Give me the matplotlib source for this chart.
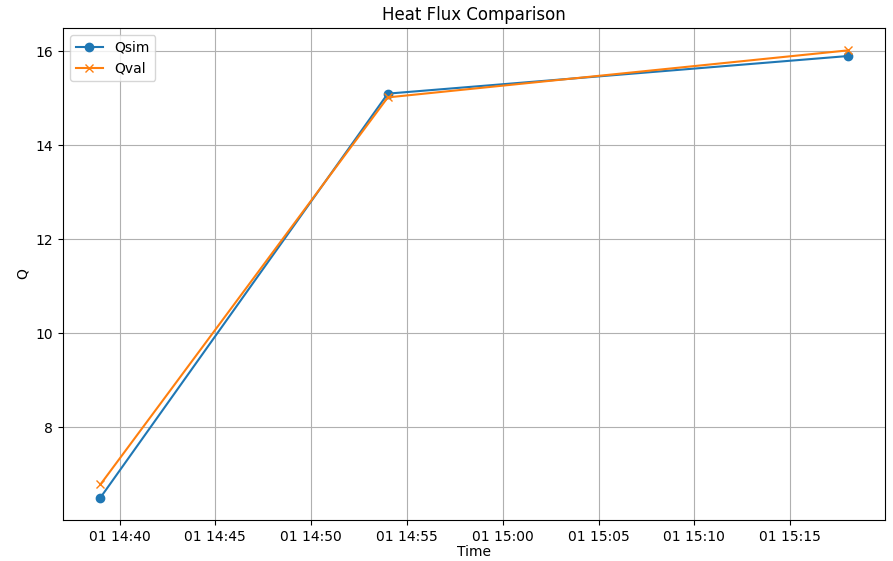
import pandas as pd
from matplotlib import pyplot as plt

times = pd.to_datetime(["2024-01-01 14:39:00", "2024-01-01 14:54:00", "2024-01-01 15:18:00"])
q_sim = [6.5, 15.1, 15.9]
q_val = [6.78, 15.02, 16.02]

fig = plt.figure(figsize=(8.93, 5.61), dpi=100)
ax = fig.add_axes([0.0706, 0.0731, 0.9204, 0.8769])
ax.plot(times, q_sim, marker="o", label="Qsim")
ax.plot(times, q_val, marker="x", label="Qval")
ax.set_xlabel("Time", labelpad=1)
ax.set_ylabel("Q")
ax.set_title("Heat Flux Comparison")
ax.legend(loc="upper left")
ax.grid(True)
fig.savefig("out.png", dpi=100)
